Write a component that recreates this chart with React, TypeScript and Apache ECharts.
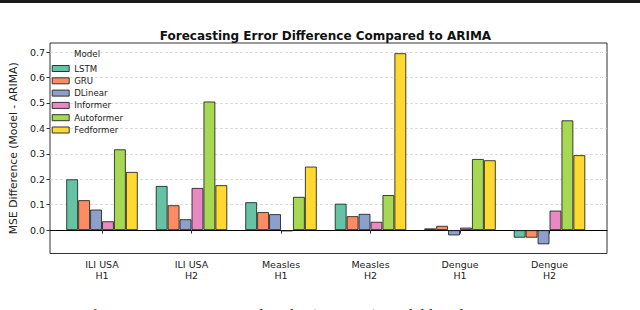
import React, { useEffect, useRef } from "react";
import * as echarts from "echarts";

const categories = ["ILI USA\nH1", "ILI USA\nH2", "Measles\nH1", "Measles\nH2", "Dengue\nH1", "Dengue\nH2"];
const modelNames = ["LSTM", "GRU", "DLinear", "Informer", "Autoformer", "Fedformer"];
const lstm = [0.2, 0.174, 0.11, 0.104, 0.007, -0.03];
const gru = [0.118, 0.098, 0.071, 0.055, 0.017, -0.03];
const dlinear = [0.081, 0.043, 0.063, 0.064, -0.021, -0.056];
const informer = [0.035, 0.166, -0.005, 0.033, 0.01, 0.077];
const autoformer = [0.318, 0.506, 0.131, 0.138, 0.28, 0.432];
const fedformer = [0.229, 0.177, 0.25, 0.696, 0.275, 0.295];
const yTicks = [0, 0.1, 0.2, 0.3, 0.4, 0.5, 0.6, 0.7];
const colors = ["#66c2a5", "#fc8d62", "#8da0cb", "#e78ac3", "#a6d854", "#ffd92f"];

const Y_MIN = -0.092;
const Y_MAX = 0.736;
const FONT = "DejaVu Sans";

export default function App() {
  const ref = useRef<HTMLDivElement>(null);
  useEffect(() => {
    if (!ref.current) return;
    const chart = echarts.init(ref.current, undefined, { renderer: "svg" });
    const seriesData = [lstm, gru, dlinear, informer, autoformer, fedformer];
    const option: any = {
      animation: false,
      backgroundColor: "#ffffff",
      textStyle: { fontFamily: FONT },
      title: [
        {
          text: "Forecasting Error Difference Compared to ARIMA",
          left: 325.5,
          top: 30,
          textAlign: "center",
          padding: 0,
          textStyle: { fontFamily: FONT, fontSize: 12, fontWeight: "bold", color: "#111" },
        },
        {
          text: "Model",
          left: 74,
          top: 49.5,
          padding: 0,
          textStyle: { fontFamily: FONT, fontSize: 8.7, fontWeight: "normal", color: "#222" },
        },
      ],
      legend: {
        orient: "vertical",
        left: 51.7,
        top: 62.5,
        padding: 0,
        itemWidth: 17,
        itemHeight: 6,
        itemGap: 0.3,
        icon: "rect",
        data: modelNames,
        itemStyle: { borderColor: "#333", borderWidth: 1 },
        textStyle: { fontFamily: FONT, fontSize: 8.6, color: "#222", lineHeight: 12 },
      },
      grid: [
        { left: 44, top: 43, width: 563, height: 210.5, show: true, borderColor: "#333", borderWidth: 1, backgroundColor: "transparent" },
        { left: 57.25, top: 43, width: 537, height: 210.5 },
      ],
      xAxis: [
        {
          type: "value",
          gridIndex: 0,
          min: 0,
          max: 1,
          axisLine: { show: true, onZero: true, lineStyle: { color: "#000", width: 1 } },
          axisTick: { show: false },
          axisLabel: { show: false },
          splitLine: { show: false },
        },
        {
          type: "category",
          gridIndex: 1,
          data: categories,
          axisLine: { show: false },
          axisTick: { show: true, alignWithLabel: true, length: 3.5, lineStyle: { color: "#333" } },
          axisLabel: { fontFamily: FONT, fontSize: 9.5, color: "#222", margin: 5, lineHeight: 11 },
          splitLine: { show: false },
        },
      ],
      yAxis: [
        {
          type: "value",
          gridIndex: 0,
          min: Y_MIN,
          max: Y_MAX,
          name: "MSE Difference (Model - ARIMA)",
          nameLocation: "middle",
          nameGap: 28.5,
          nameTextStyle: { fontFamily: FONT, fontSize: 10.8, color: "#222" },
          axisLine: { show: false },
          axisTick: { show: true, length: 3.5, customValues: yTicks, lineStyle: { color: "#333" } },
          axisLabel: {
            fontFamily: FONT,
            fontSize: 9.5,
            color: "#222",
            margin: 5,
            customValues: yTicks,
            formatter: (v: number) => v.toFixed(1),
          },
          splitLine: { show: true, lineStyle: { color: "#d4d4d4", type: [3, 2], width: 0.8 } },
        },
        {
          type: "value",
          gridIndex: 1,
          min: Y_MIN,
          max: Y_MAX,
          show: false,
          splitLine: { show: false },
        },
      ],
      graphic: [
        { type: "rect", left: 0, top: 0, shape: { width: 640, height: 3 }, style: { fill: "#1a1a1a" } },
        {
          type: "text",
          left: 2,
          top: 306.5,
          style: {
            text: "Figure 4: Performance error compared to the (ARIMA) model baseline across",
            font: "17px 'Liberation Serif'",
            fill: "#222",
          },
        },
      ],
      series: modelNames.map((name, k) => ({
        name,
        type: "bar",
        xAxisIndex: 1,
        yAxisIndex: 1,
        data: seriesData[k],
        barGap: "0%",
        barCategoryGap: "20%",
        itemStyle: { color: colors[k], borderColor: "rgba(20,20,20,0.8)", borderWidth: 1 },
      })),
    };
    chart.setOption(option);
    return () => chart.dispose();
  }, []);
  return <div ref={ref} style={{ position: "absolute", left: 0, top: 0, width: 640, height: 310 }} />;
}
